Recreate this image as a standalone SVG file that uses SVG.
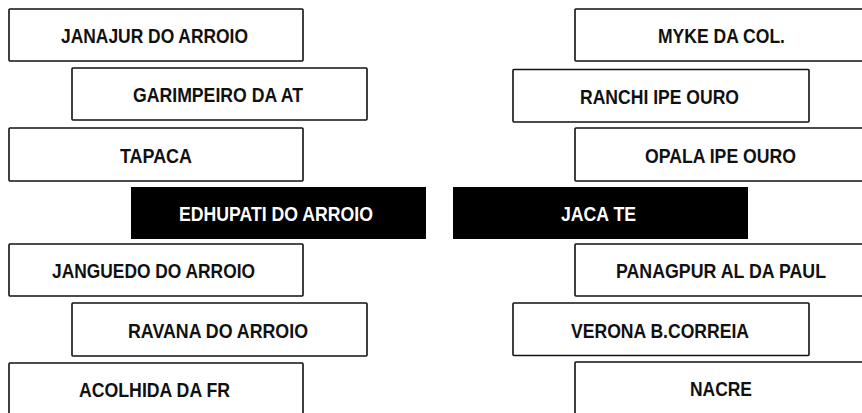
<svg xmlns="http://www.w3.org/2000/svg" width="862" height="413" viewBox="0 0 862 413">
<style>
.box{fill:#fff;stroke:#111;stroke-width:1.6}
.dark{fill:#000;stroke:none}
.t{font-family:"Liberation Sans",Arial,sans-serif;font-weight:bold;font-size:21px;fill:#111}
.w{fill:#fff}
.s{font-size:20px}
</style>
<rect width="862" height="413" fill="#fff"/>
<g id="connectors"/>
<g id="n-janajur"><rect class="box" x="9" y="9" width="294" height="52" rx="1"/><text class="t" x="61" y="43" textLength="187" lengthAdjust="spacingAndGlyphs">JANAJUR DO ARROIO</text></g>
<g id="n-garimpeiro"><rect class="box" x="72" y="68" width="295" height="52" rx="1"/><text class="t" x="133" y="102" textLength="170" lengthAdjust="spacingAndGlyphs">GARIMPEIRO DA AT</text></g>
<g id="n-tapaca"><rect class="box" x="9" y="128" width="294" height="53" rx="1"/><text class="t" x="120" y="162.5" textLength="72" lengthAdjust="spacingAndGlyphs">TAPACA</text></g>
<g id="n-edhupati"><rect class="dark" x="131" y="187" width="295" height="52"/><text class="t w" x="179" y="221" textLength="194" lengthAdjust="spacingAndGlyphs">EDHUPATI DO ARROIO</text></g>
<g id="n-janguedo"><rect class="box" x="9" y="244" width="294" height="52" rx="1"/><text class="t" x="52" y="278" textLength="203" lengthAdjust="spacingAndGlyphs">JANGUEDO DO ARROIO</text></g>
<g id="n-ravana"><rect class="box" x="72" y="303" width="295" height="53" rx="1"/><text class="t" x="128" y="337.5" textLength="180" lengthAdjust="spacingAndGlyphs">RAVANA DO ARROIO</text></g>
<g id="n-acolhida"><rect class="box" x="9" y="363" width="294" height="60" rx="1"/><text class="t" x="79" y="397" textLength="151" lengthAdjust="spacingAndGlyphs">ACOLHIDA DA FR</text></g>
<g id="n-myke"><rect class="box" x="575" y="9" width="300" height="52" rx="1"/><text class="t" x="658" y="43" textLength="127" lengthAdjust="spacingAndGlyphs">MYKE DA COL.</text></g>
<g id="n-ranchi"><rect class="box" x="513" y="69.5" width="296" height="52.5" rx="1"/><text class="t" x="580" y="104" textLength="159" lengthAdjust="spacingAndGlyphs">RANCHI IPE OURO</text></g>
<g id="n-opala"><rect class="box" x="575" y="128" width="300" height="53" rx="1"/><text class="t" x="645" y="162.5" textLength="151" lengthAdjust="spacingAndGlyphs">OPALA IPE OURO</text></g>
<g id="n-jacate"><rect class="dark" x="453" y="187" width="295" height="52"/><text class="t w" x="561" y="221" textLength="75" lengthAdjust="spacingAndGlyphs">JACA TE</text></g>
<g id="n-panagpur"><rect class="box" x="575" y="244" width="300" height="52" rx="1"/><text class="t s" x="616" y="278" textLength="210" lengthAdjust="spacingAndGlyphs">PANAGPUR AL DA PAUL</text></g>
<g id="n-verona"><rect class="box" x="513" y="303" width="296" height="52.5" rx="1"/><text class="t" x="571" y="337.5" textLength="178" lengthAdjust="spacingAndGlyphs">VERONA B.CORREIA</text></g>
<g id="n-nacre"><rect class="box" x="575" y="362" width="300" height="60" rx="1"/><text class="t" x="690" y="396" textLength="62" lengthAdjust="spacingAndGlyphs">NACRE</text></g>
</svg>
